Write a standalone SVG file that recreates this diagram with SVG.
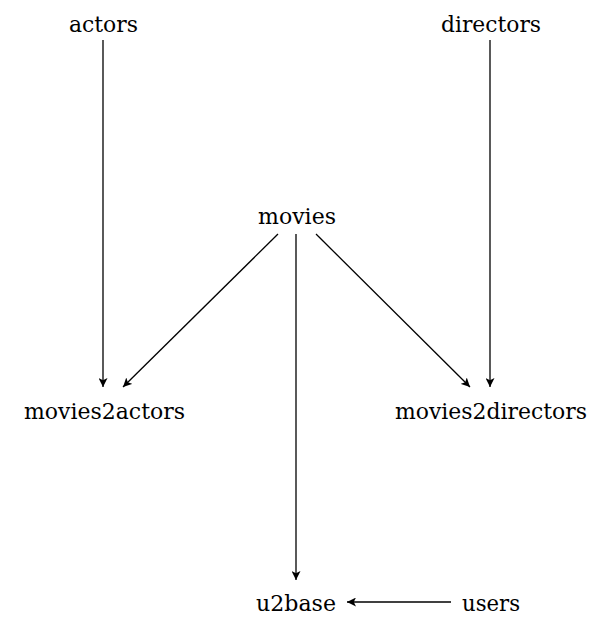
<svg xmlns="http://www.w3.org/2000/svg" width="606" height="630" viewBox="0 0 606 630">
<style>
.t{font-family:"DejaVu Serif","Liberation Serif",serif;font-size:22px;fill:#000;text-anchor:middle}
.e{stroke:#000;stroke-width:1.3;fill:none;marker-end:url(#ah)}
</style>
<defs>
<marker id="ah" viewBox="0 0 10 10" refX="10" refY="5" markerWidth="9" markerHeight="9" markerUnits="userSpaceOnUse" orient="auto">
<path d="M0,0 L10,5 L0,10 L2.5,5 Z" fill="#000"/>
</marker>
</defs>
<rect width="606" height="630" fill="#fff"/>
<g id="edges">
<line class="e" x1="103" y1="40" x2="103" y2="387"/>
<line class="e" x1="490" y1="40" x2="490" y2="387"/>
<line class="e" x1="278" y1="234" x2="123" y2="387"/>
<line class="e" x1="316" y1="234" x2="470" y2="387"/>
<line class="e" x1="296" y1="234" x2="296" y2="580"/>
<line class="e" x1="451" y1="602" x2="347" y2="602"/>
</g>
<g id="actors"><text class="t" x="103.5" y="31.5" textLength="69" lengthAdjust="spacingAndGlyphs">actors</text></g>
<g id="directors"><text class="t" x="491" y="31.5" textLength="100" lengthAdjust="spacingAndGlyphs">directors</text></g>
<g id="movies"><text class="t" x="297" y="223.5" textLength="78" lengthAdjust="spacingAndGlyphs">movies</text></g>
<g id="movies2actors"><text class="t" x="104.5" y="418.5" textLength="161" lengthAdjust="spacingAndGlyphs">movies2actors</text></g>
<g id="movies2directors"><text class="t" x="491" y="418.5" textLength="192" lengthAdjust="spacingAndGlyphs">movies2directors</text></g>
<g id="u2base"><text class="t" x="296" y="611" textLength="80" lengthAdjust="spacingAndGlyphs">u2base</text></g>
<g id="users"><text class="t" x="491" y="611" textLength="58" lengthAdjust="spacingAndGlyphs">users</text></g>
</svg>
